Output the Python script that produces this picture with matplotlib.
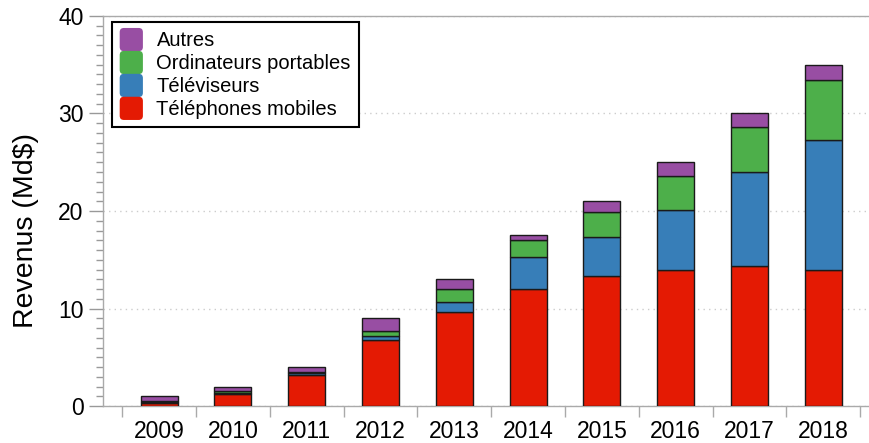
import numpy as np
import matplotlib
matplotlib.use("Agg")
import matplotlib.pyplot as plt
from matplotlib.ticker import MultipleLocator, FixedLocator
from matplotlib.patches import FancyBboxPatch
from matplotlib.legend_handler import HandlerPatch

plt.rcParams["font.family"] = ["Liberation Sans", "DejaVu Sans"]

# data (Md$)
years = ["2009", "2010", "2011", "2012", "2013", "2014", "2015", "2016", "2017", "2018"]
mobiles = [0.3, 1.2, 3.2, 6.8, 9.6, 12.0, 13.3, 14.0, 14.4, 14.0]
televiseurs = [0.1, 0.15, 0.15, 0.35, 1.1, 3.3, 4.0, 6.1, 9.6, 13.3]
portables = [0.1, 0.15, 0.15, 0.55, 1.3, 1.7, 2.6, 3.5, 4.6, 6.1]
autres = [0.5, 0.5, 0.5, 1.3, 1.0, 0.5, 1.1, 1.4, 1.4, 1.6]

series = [
    ("Téléphones mobiles", mobiles, "#e41a03"),
    ("Téléviseurs", televiseurs, "#377eb8"),
    ("Ordinateurs portables", portables, "#4daf4a"),
    ("Autres", autres, "#984ea3"),
]

fig = plt.figure(figsize=(8.69, 4.43), dpi=100)
ax = fig.add_axes([0.1185, 0.0835, 0.8815, 0.8804])

x = np.arange(len(years))
bottom = np.zeros(len(years))
handles = []
for name, vals, col in series:
    b = ax.bar(x, vals, width=0.5, bottom=bottom, color=col,
               edgecolor="#1a1a1a", linewidth=1.0, label=name, zorder=3)
    handles.append(b)
    bottom += np.array(vals)

ax.set_xlim(-0.76, 9.62)
ax.set_ylim(0, 40)

# y axis
ax.yaxis.set_major_locator(MultipleLocator(10))
ax.yaxis.set_minor_locator(MultipleLocator(1))
ax.tick_params(axis="y", which="major", length=10, width=1, color="#999999",
               labelsize=16.5, pad=4)
ax.tick_params(axis="y", which="minor", length=5, width=1, color="#999999")
ax.set_ylabel("Revenus (Md$)", fontsize=20.5)
ax.yaxis.set_label_coords(-0.083, 0.45)

# x axis: labels at centers, ticks at boundaries
ax.set_xticks(x)
ax.set_xticklabels(years, fontsize=16.5)
ax.tick_params(axis="x", which="major", length=0, pad=10)
ax.xaxis.set_minor_locator(FixedLocator(np.arange(-0.5, 10, 1.0)))
ax.tick_params(axis="x", which="minor", length=8, width=1, color="#aaaaaa")

for s in ["left", "bottom", "top"]:
    ax.spines[s].set_color("#aaaaaa")
    ax.spines[s].set_linewidth(1)
ax.spines["right"].set_visible(False)

ax.yaxis.grid(True, which="major", linestyle=(0, (1, 3)), color="#cccccc", linewidth=1, zorder=0)
ax.set_axisbelow(True)


class RoundHandler(HandlerPatch):
    def create_artists(self, legend, orig_handle, xdescent, ydescent, width, height, fontsize, trans):
        size = min(width, height) * 1.2
        p = FancyBboxPatch((xdescent + (width - size) / 2 - xdescent * 2, -ydescent + (height - size) / 2),
                           size, size, boxstyle="round,pad=0,rounding_size=3",
                           facecolor=orig_handle.get_facecolor(), edgecolor="none", transform=trans)
        return [p]


leg_handles = [h.patches[0] for h in handles][::-1]
leg_labels = [s[0] for s in series][::-1]
hm = {h: RoundHandler() for h in leg_handles}
leg = ax.legend(leg_handles, leg_labels, loc="upper left", bbox_to_anchor=(0.012, 0.985),
                borderaxespad=0, fontsize=14.5, frameon=True, fancybox=False,
                handler_map=hm, handlelength=1.1, handleheight=1.1, handletextpad=0.7,
                labelspacing=0.12, borderpad=0.4)
leg.get_frame().set_edgecolor("black")
leg.get_frame().set_linewidth(1.5)
leg.get_frame().set_alpha(1)

fig.savefig("out.png", dpi=100)
